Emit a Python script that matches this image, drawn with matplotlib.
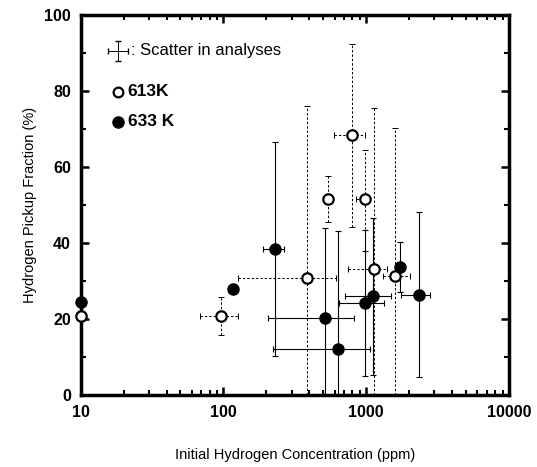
import numpy as np
import matplotlib.pyplot as plt

plt.rcParams['font.family'] = ['Liberation Sans', 'DejaVu Sans']

# 613 K (open circles, dashed scatter bars)
x613 = np.array([10, 96, 382, 541, 800, 977, 1135, 1582])
y613 = np.array([20.8, 20.9, 30.7, 51.5, 68.4, 51.5, 33.1, 31.3])
x613_lo = np.array([10, 69, 127, 541, 596, 850, 746, 1300])
x613_hi = np.array([10, 127, 617, 541, 977, 1050, 1400, 2014])
y613_lo = np.array([20.8, 15.8, 0, 45.6, 44.3, 38.0, 0, 0])
y613_hi = np.array([20.8, 25.9, 76.0, 57.6, 92.3, 64.5, 75.5, 70.2])

# 633 K (filled circles, solid scatter bars)
x633 = np.array([10, 117, 229, 513, 635, 987, 1116, 1734, 2330])
y633 = np.array([24.5, 27.8, 38.4, 20.4, 12.1, 24.3, 26.0, 33.8, 26.3])
x633_lo = np.array([10, 117, 190, 206, 221, 644, 707, 1734, 1763])
x633_hi = np.array([10, 117, 265, 822, 1058, 1325, 1500, 1734, 2812])
y633_lo = np.array([24.5, 27.8, 10.3, 0, 0, 5.0, 5.3, 27.2, 4.8])
y633_hi = np.array([24.5, 27.8, 66.5, 43.9, 43.2, 43.4, 46.5, 40.3, 48.2])

fig = plt.figure(figsize=(5.37, 4.67), dpi=100)
ax = fig.add_axes([0.150, 0.154, 0.798, 0.814])

e1 = ax.errorbar(x613, y613,
                 xerr=[x613 - x613_lo, x613_hi - x613],
                 yerr=[y613 - y613_lo, y613_hi - y613],
                 fmt='none', ecolor='black', elinewidth=0.7, capsize=2.5,
                 capthick=0.7)
for lc in e1[2]:
    lc.set_linestyle((0, (2.5, 2)))

ax.errorbar(x633, y633,
            xerr=[x633 - x633_lo, x633_hi - x633],
            yerr=[y633 - y633_lo, y633_hi - y633],
            fmt='none', ecolor='black', elinewidth=0.8, capsize=2.5,
            capthick=0.8)

ax.plot(x633, y633, 'o', color='black', markersize=8, clip_on=False, zorder=4)
ax.plot(x613, y613, 'o', markerfacecolor='white', markeredgecolor='black',
        markeredgewidth=1.6, markersize=7.5, clip_on=False, zorder=5)

ax.set_xscale('log')
ax.set_xlim(10, 10000)
ax.set_ylim(0, 100)
ax.set_yticks([0, 20, 40, 60, 80, 100])
ax.set_yticks(np.arange(10, 100, 20), minor=True)
ax.set_xticks([10, 100, 1000, 10000])
ax.set_xticklabels(['10', '100', '1000', '10000'])

for s in ax.spines.values():
    s.set_linewidth(2.5)
ax.tick_params(which='both', direction='in', top=True, right=True)
ax.tick_params(which='major', length=6, width=1.8, labelsize=11.5, pad=7)
ax.tick_params(which='minor', length=3.5, width=1.5)
for lab in ax.get_xticklabels() + ax.get_yticklabels():
    lab.set_fontweight('bold')

ax.set_xlabel('Initial Hydrogen Concentration (ppm)', fontsize=10.5,
              fontweight='medium', labelpad=20)
ax.set_ylabel('Hydrogen Pickup Fraction (%)', fontsize=10.5,
              fontweight='medium', labelpad=5)

# legend drawn by hand
tr = ax.transAxes
ax.errorbar([0.088], [0.906], xerr=[0.023], yerr=[0.026], fmt='none',
            ecolor='black', elinewidth=0.7, capsize=2, transform=tr)
ax.text(0.118, 0.906, ': Scatter in analyses', transform=tr, fontsize=12,
        va='center', ha='left')
ax.plot([0.088], [0.798], 'o', markerfacecolor='white', markeredgecolor='black',
        markeredgewidth=1.6, markersize=7, transform=tr)
ax.text(0.11, 0.798, '613K', transform=tr, fontsize=12.5, fontweight='bold',
        va='center', ha='left')
ax.plot([0.088], [0.719], 'o', color='black', markersize=8, transform=tr)
ax.text(0.11, 0.719, '633 K', transform=tr, fontsize=12.5, fontweight='bold',
        va='center', ha='left')

fig.savefig('out.png', dpi=100)
